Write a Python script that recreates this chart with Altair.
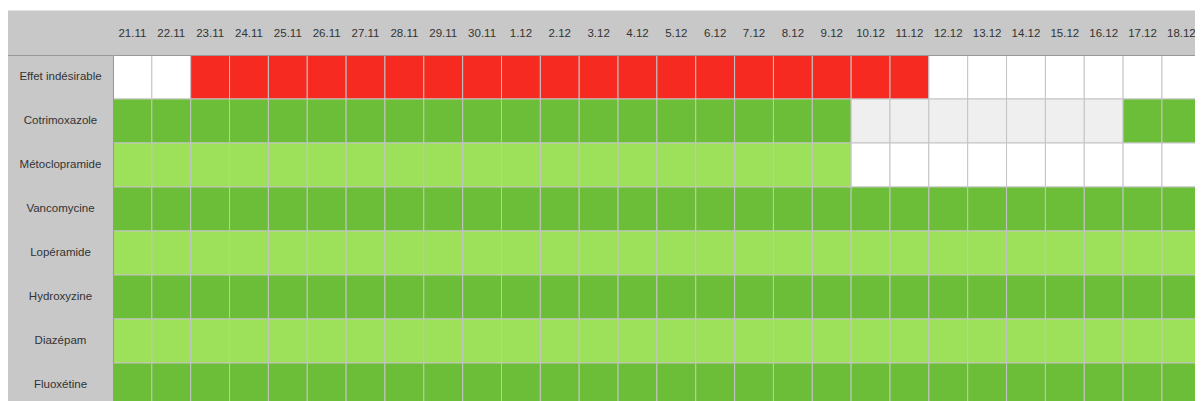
import altair as alt
import pandas as pd

dates = ["21.11", "22.11", "23.11", "24.11", "25.11", "26.11", "27.11", "28.11",
         "29.11", "30.11", "1.12", "2.12", "3.12", "4.12", "5.12", "6.12", "7.12",
         "8.12", "9.12", "10.12", "11.12", "12.12", "13.12", "14.12", "15.12",
         "16.12", "17.12", "18.12"]

rows = ["Effet indésirable", "Cotrimoxazole", "Métoclopramide", "Vancomycine",
        "Lopéramide", "Hydroxyzine", "Diazépam", "Fluoxétine"]

# W = aucun, R = effet indésirable, D = traitement (vert foncé),
# L = traitement (vert clair), G = suspendu (gris clair)
effet          = ["W", "W", "R", "R", "R", "R", "R", "R", "R", "R", "R", "R", "R", "R",
                  "R", "R", "R", "R", "R", "R", "R", "W", "W", "W", "W", "W", "W", "W"]
cotrimoxazole  = ["D", "D", "D", "D", "D", "D", "D", "D", "D", "D", "D", "D", "D", "D",
                  "D", "D", "D", "D", "D", "G", "G", "G", "G", "G", "G", "G", "D", "D"]
metoclopramide = ["L", "L", "L", "L", "L", "L", "L", "L", "L", "L", "L", "L", "L", "L",
                  "L", "L", "L", "L", "L", "W", "W", "W", "W", "W", "W", "W", "W", "W"]
vancomycine    = ["D"] * 28
loperamide     = ["L"] * 28
hydroxyzine    = ["D"] * 28
diazepam       = ["L"] * 28
fluoxetine     = ["D"] * 28

series = [effet, cotrimoxazole, metoclopramide, vancomycine,
          loperamide, hydroxyzine, diazepam, fluoxetine]

state_codes = ["W", "R", "D", "L", "G"]
state_colors = ["#ffffff", "#f72a21", "#6cbe38", "#9de05a", "#efefef"]

records = []
for r, vals in zip(rows, series):
    for d, v in zip(dates, vals):
        records.append({"row": r, "date": d, "state": v})
df = pd.DataFrame(records)

FONT = "Liberation Sans"
COL_W = 38.85
LEFT = 105
TOP = 47
W = 1082
H = 352

cells = alt.Chart(df).mark_rect(stroke="#c4c4c4", strokeWidth=1).encode(
    x=alt.X("date:N", sort=dates,
            scale=alt.Scale(range=[0, COL_W * len(dates)]),
            axis=alt.Axis(orient="top", title=None, labelAngle=0, ticks=False,
                          tickSize=0, labelPadding=22, labelBaseline="middle",
                          domainColor="#9a9a9a", labelFont=FONT, labelFontSize=11.5,
                          labelColor="#333333")),
    y=alt.Y("row:N", sort=rows,
            axis=alt.Axis(title=None, ticks=False, tickSize=0, labelPadding=53,
                          labelAlign="center", labelBaseline="middle",
                          domainColor="#9a9a9a", labelFont=FONT, labelFontSize=11.5,
                          labelColor="#333333")),
    color=alt.Color("state:N", scale=alt.Scale(domain=state_codes, range=state_colors),
                    legend=None),
)

one = pd.DataFrame({"k": [0]})

# thin white strip above the grey header band
top_strip = alt.Chart(one).mark_rect(color="#ffffff").encode(
    x=alt.value(-LEFT), x2=alt.value(W), y=alt.value(-TOP), y2=alt.value(-TOP + 2.5)
)

# header separator continuing across the label column
header_line = alt.Chart(one).mark_rule(color="#9a9a9a", strokeWidth=1).encode(
    x=alt.value(-LEFT), x2=alt.value(0), y=alt.value(0.5)
)

chart = alt.layer(cells, top_strip, header_line).properties(
    width=W,
    height=H,
    padding={"left": LEFT, "top": TOP, "right": 0, "bottom": 0},
    autosize=alt.AutoSizeParams(type="none"),
    background="#c8c8c8",
).configure_view(stroke=None).configure_scale(bandPaddingInner=0, bandPaddingOuter=0)

chart.save("out.html", embed_options={"renderer": "svg", "actions": False})
